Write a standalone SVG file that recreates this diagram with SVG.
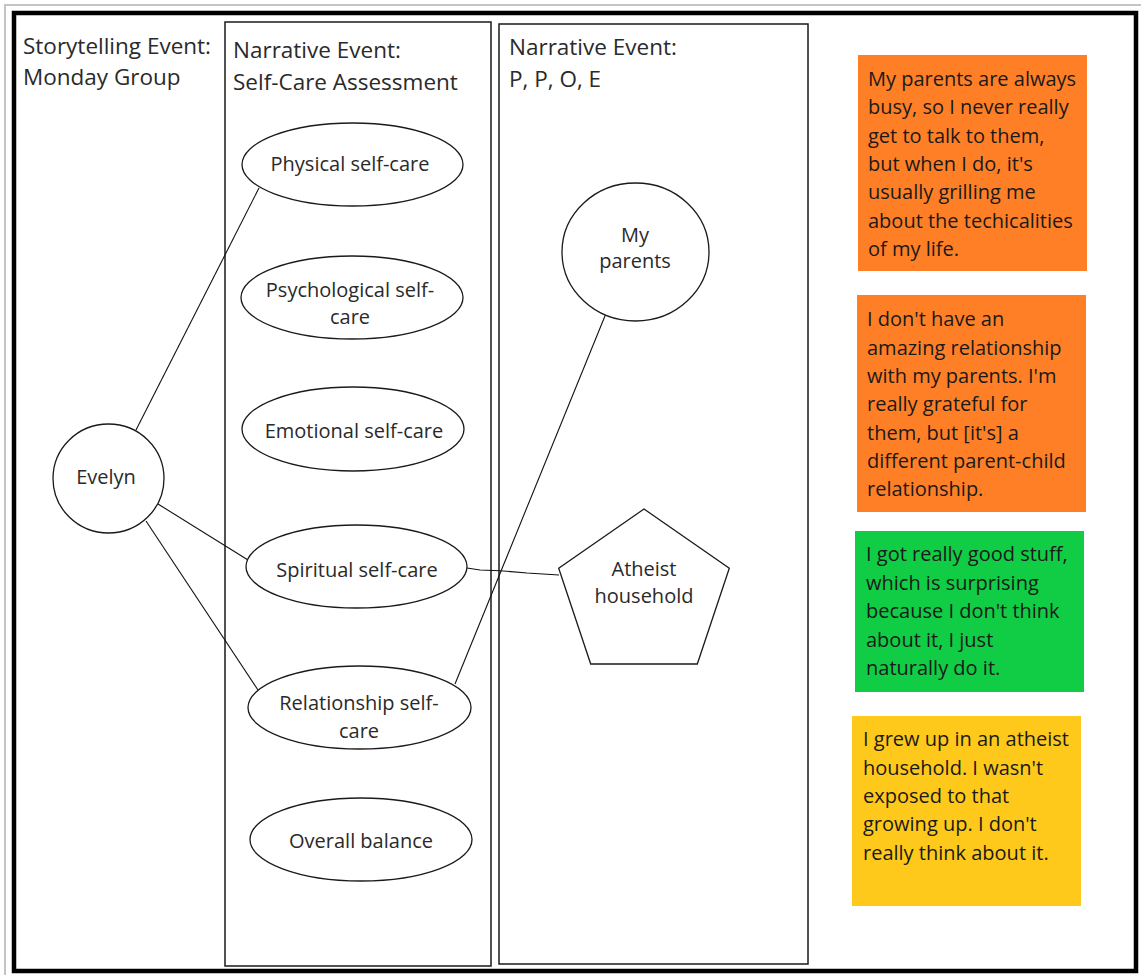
<svg xmlns="http://www.w3.org/2000/svg" width="1141" height="975" viewBox="0 0 1141 975">
  <style>
    text { font-family: "Open Sans", "Noto Sans", "DejaVu Sans", sans-serif; fill: #2a2a2a; }
    .title { font-size: 22.5px; }
    .lbl { font-size: 20px; text-anchor: middle; }
    .quote { font-size: 20px; fill: #1a1a1a; }
    .shape { fill: #ffffff; stroke: #1a1a1a; stroke-width: 1.3; }
    .lane { fill: none; stroke: #1a1a1a; stroke-width: 1.5; }
    .edge { fill: none; stroke: #111111; stroke-width: 1.1; }
  </style>

  <rect x="0" y="0" width="1141" height="975" fill="#ffffff"/>
  <!-- page edge -->
  <line x1="4" y1="5" x2="1141" y2="5" stroke="#c4c4c4" stroke-width="2"/>
  <line x1="5" y1="4" x2="5" y2="975" stroke="#c4c4c4" stroke-width="2"/>
  <!-- outer frame -->
  <rect x="14" y="13" width="1122" height="958" fill="none" stroke="#000000" stroke-width="4.5"/>

  <!-- lanes -->
  <g id="lane-storytelling">
    <text class="title" x="23" y="54">Storytelling Event:</text>
    <text class="title" x="23" y="85">Monday Group</text>
  </g>
  <g id="lane-selfcare">
    <rect class="lane" x="225" y="22" width="266" height="944"/>
    <text class="title" x="233" y="58">Narrative Event:</text>
    <text class="title" x="233" y="90">Self-Care Assessment</text>
  </g>
  <g id="lane-ppoe">
    <rect class="lane" x="499" y="24" width="309" height="940"/>
    <text class="title" x="509" y="55">Narrative Event:</text>
    <text class="title" x="509" y="87">P, P, O, E</text>
  </g>

  <!-- connectors -->
  <g id="connectors">
    <line class="edge" x1="136" y1="430" x2="259" y2="188"/>
    <line class="edge" x1="158" y1="504" x2="248" y2="560"/>
    <line class="edge" x1="146" y1="521" x2="258" y2="690"/>
    <polyline class="edge" points="467,568 480,570 500,570.7 527,573 559,575"/>
    <line class="edge" x1="455" y1="684" x2="607" y2="311"/>
  </g>

  <!-- nodes -->
  <g id="node-evelyn">
    <ellipse class="shape" cx="108.5" cy="478.5" rx="55.5" ry="54.5"/>
    <text class="lbl" x="106" y="484">Evelyn</text>
  </g>
  <g id="node-physical">
    <ellipse class="shape" cx="352.5" cy="164.5" rx="110.5" ry="41.5"/>
    <text class="lbl" x="350" y="171">Physical self-care</text>
  </g>
  <g id="node-psychological">
    <ellipse class="shape" cx="352" cy="297.5" rx="111" ry="41.5"/>
    <text class="lbl" x="350" y="297">Psychological self-</text>
    <text class="lbl" x="350" y="324">care</text>
  </g>
  <g id="node-emotional">
    <ellipse class="shape" cx="353" cy="429" rx="111" ry="42"/>
    <text class="lbl" x="354" y="438">Emotional self-care</text>
  </g>
  <g id="node-spiritual">
    <ellipse class="shape" cx="356.5" cy="566.5" rx="110.5" ry="41.5"/>
    <text class="lbl" x="357" y="577">Spiritual self-care</text>
  </g>
  <g id="node-relationship">
    <ellipse class="shape" cx="359.5" cy="707.5" rx="111.5" ry="41.5"/>
    <text class="lbl" x="359" y="710">Relationship self-</text>
    <text class="lbl" x="359" y="738">care</text>
  </g>
  <g id="node-overall">
    <ellipse class="shape" cx="361" cy="839.5" rx="111" ry="41.5"/>
    <text class="lbl" x="361" y="848">Overall balance</text>
  </g>
  <g id="node-parents">
    <ellipse class="shape" cx="635.5" cy="252" rx="73.5" ry="69"/>
    <text class="lbl" x="635" y="242">My</text>
    <text class="lbl" x="635" y="268">parents</text>
  </g>
  <g id="node-atheist">
    <polygon class="shape" points="644,509 729.3,568.3 697.3,664 590.7,664 558.7,568.3"/>
    <text class="lbl" x="644" y="576">Atheist</text>
    <text class="lbl" x="644" y="603">household</text>
  </g>

  <!-- quotes -->
  <g id="quote-parents-busy">
    <rect x="858" y="55" width="229" height="216" fill="#ff7f27"/>
    <text class="quote" x="868" y="86">My parents are always</text>
    <text class="quote" x="868" y="114">busy, so I never really</text>
    <text class="quote" x="868" y="143">get to talk to them,</text>
    <text class="quote" x="868" y="171">but when I do, it's</text>
    <text class="quote" x="868" y="199">usually grilling me</text>
    <text class="quote" x="868" y="228">about the techicalities</text>
    <text class="quote" x="868" y="256">of my life.</text>
  </g>
  <g id="quote-parents-relationship">
    <rect x="857" y="295" width="229" height="217" fill="#ff7f27"/>
    <text class="quote" x="867" y="326">I don't have an</text>
    <text class="quote" x="867" y="355">amazing relationship</text>
    <text class="quote" x="867" y="383">with my parents. I'm</text>
    <text class="quote" x="867" y="411">really grateful for</text>
    <text class="quote" x="867" y="440">them, but [it's] a</text>
    <text class="quote" x="867" y="468">different parent-child</text>
    <text class="quote" x="867" y="496">relationship.</text>
  </g>
  <g id="quote-good-stuff">
    <rect x="855" y="531" width="229" height="161" fill="#11cc45"/>
    <text class="quote" x="866" y="561">I got really good stuff,</text>
    <text class="quote" x="866" y="590">which is surprising</text>
    <text class="quote" x="866" y="618">because I don't think</text>
    <text class="quote" x="866" y="647">about it, I just</text>
    <text class="quote" x="866" y="675">naturally do it.</text>
  </g>
  <g id="quote-atheist">
    <rect x="852" y="716" width="229" height="190" fill="#ffc91c"/>
    <text class="quote" x="863" y="746">I grew up in an atheist</text>
    <text class="quote" x="863" y="775">household. I wasn't</text>
    <text class="quote" x="863" y="803">exposed to that</text>
    <text class="quote" x="863" y="831">growing up. I don't</text>
    <text class="quote" x="863" y="860">really think about it.</text>
  </g>
</svg>
